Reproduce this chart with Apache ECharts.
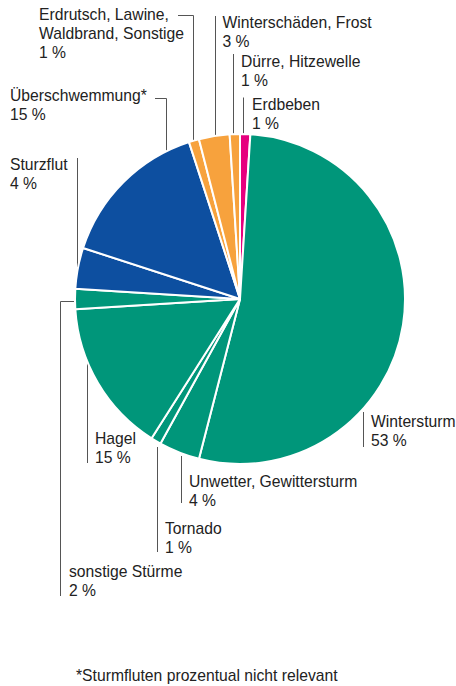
<!DOCTYPE html>
<html>
<head>
<meta charset="utf-8">
<script src="https://cdn.jsdelivr.net/npm/echarts@6/dist/echarts.min.js"></script>
<style>
html,body{margin:0;padding:0;background:#fff;}
#chart{width:456px;height:686px;}
</style>
</head>
<body>
<div id="chart"></div>
<script>
// ---- data ----
const categories = [
  "Erdbeben",
  "Wintersturm",
  "Unwetter, Gewittersturm",
  "Tornado",
  "Hagel",
  "sonstige Stürme",
  "Sturzflut",
  "Überschwemmung*",
  "Erdrutsch, Lawine,\nWaldbrand, Sonstige",
  "Winterschäden, Frost",
  "Dürre, Hitzewelle"
];
const values = [1, 53, 4, 1, 15, 2, 4, 15, 1, 3, 1];
const footnote = "*Sturmfluten prozentual nicht relevant";

// ---- styling / layout (not data) ----
const TEAL = "#00967A", BLUE = "#0D4FA0", ORANGE = "#F7A23D", PINK = "#E6007E";
const colors = [PINK, TEAL, TEAL, TEAL, TEAL, TEAL, BLUE, BLUE, ORANGE, ORANGE, ORANGE];
const labelPos = [
  [252, 95], [371, 411.5], [189, 471.5], [165, 519], [95, 429], [69, 562],
  [10, 155], [10, 86], [39, 5], [222.5, 12.5], [241, 52]
];
const leader = [
  [[243.5,135],[243.5,97.5]],
  [[363.5,447],[363.5,412]],
  [[181.5,456],[181.5,503]],
  [[157.5,447],[157.5,552]],
  [[87.5,362],[87.5,463]],
  [[74,301.5],[60.5,301.5],[60.5,596]],
  [[77.5,267],[77.5,158]],
  [[166.5,151],[166.5,98.5],[155,98.5]],
  [[193.5,140],[193.5,15.5],[178,15.5]],
  [[215.5,136],[215.5,16]],
  [[233.5,135],[233.5,54]]
];

const FONT = '"Liberation Sans", Arial, Helvetica, sans-serif';
const FS = 15.7;
const chart = echarts.init(document.getElementById('chart'), null, {renderer: 'svg'});
chart.setOption({
  animation: false,
  backgroundColor: '#fff',
  graphic: [{
    type: 'text', left: 76, top: 667,
    style: {text: footnote, fill: '#222', font: FS + 'px ' + FONT}
  }],
  series: [{
    type: 'pie',
    center: [240, 299],
    radius: 165,
    startAngle: 90,
    clockwise: true,
    avoidLabelOverlap: false,
    itemStyle: {borderColor: '#fff', borderWidth: 2},
    label: {
      show: true, position: 'outside',
      formatter: p => p.name + '\n' + p.value + ' %',
      color: '#222', fontSize: FS, fontFamily: FONT, lineHeight: 19, align: 'left'
    },
    labelLine: {show: true, length: 5, length2: 5, smooth: false,
      lineStyle: {color: '#555', width: 1}},
    labelLayout: function (params) {
      const i = params.dataIndex;
      const pts = leader[i].slice();
      while (pts.length < 3) pts.push(pts[pts.length - 1]);
      return {
        x: labelPos[i][0], y: labelPos[i][1],
        align: 'left', verticalAlign: 'top',
        labelLinePoints: pts
      };
    },
    emphasis: {disabled: true},
    data: categories.map((c, i) => ({name: c, value: values[i], itemStyle: {color: colors[i]}}))
  }]
});
</script>
</body>
</html>
